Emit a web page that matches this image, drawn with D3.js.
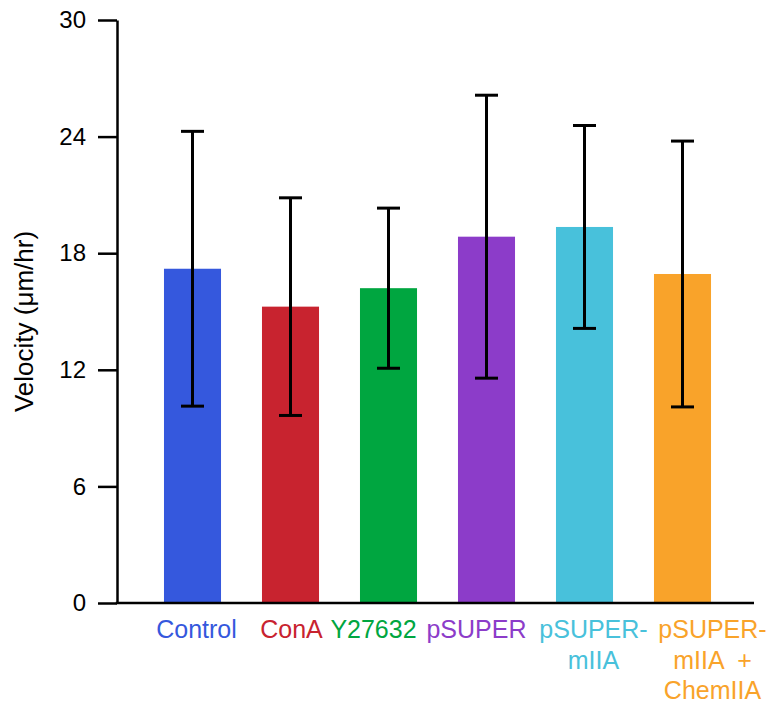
<!DOCTYPE html>
<html>
<head>
<meta charset="utf-8">
<script src="https://cdn.jsdelivr.net/npm/d3@7"></script>
<style>
  html, body { margin: 0; padding: 0; background: #fff; }
  svg { display: block; font-family: "Liberation Sans", Arial, Helvetica, sans-serif; }
</style>
</head>
<body>
<svg id="chart" width="769" height="705"></svg>
<script>
// ---- data ----
const categories = ["Control", "ConA", "Y27632", "pSUPER", "pSUPER-mIIA", "pSUPER-mIIA + ChemIIA"];
const labelLines = [["Control"], ["ConA"], ["Y27632"], ["pSUPER"], ["pSUPER-", "mIIA"], ["pSUPER-", "mIIA  +", "ChemIIA"]];
const means = [17.2, 15.25, 16.2, 18.85, 19.35, 16.93];
const errors = [7.07, 5.6, 4.12, 7.28, 5.22, 6.84];
const yTicks = [0, 6, 12, 18, 24, 30];
const yTitle = "Velocity (\u03bcm/hr)";

// ---- styles / layout ----
const colors = ["#3558dd", "#c8232f", "#00a640", "#8c3cc9", "#48c1db", "#f9a32a"];
const labelDx = [4, 1, -15, -10, 9, 30];

const svg = d3.select("#chart");
const axisX0 = 117, axisX1 = 754;

const y = d3.scaleLinear().domain([0, 30]).range([603, 20]);
const x = d3.scaleBand()
  .domain(categories)
  .range([143.5, 731.5])
  .paddingInner(0.418)
  .paddingOuter(0.209);

// bars
svg.append("g").selectAll("rect")
  .data(categories)
  .join("rect")
  .attr("x", d => x(d))
  .attr("width", x.bandwidth())
  .attr("y", (d, i) => y(means[i]))
  .attr("height", (d, i) => y(0) - y(means[i]))
  .attr("fill", (d, i) => colors[i]);

// error bars
const capW = 23;
const eb = svg.append("g").attr("stroke", "#000").attr("stroke-width", 3).attr("fill", "none");
categories.forEach((c, i) => {
  const cx = x(c) + x.bandwidth() / 2;
  const hi = y(means[i] + errors[i]);
  const lo = y(means[i] - errors[i]);
  eb.append("line").attr("x1", cx).attr("x2", cx).attr("y1", hi).attr("y2", lo);
  eb.append("line").attr("x1", cx - capW / 2).attr("x2", cx + capW / 2).attr("y1", hi).attr("y2", hi);
  eb.append("line").attr("x1", cx - capW / 2).attr("x2", cx + capW / 2).attr("y1", lo).attr("y2", lo);
});

// y axis
const yAxis = d3.axisLeft(y).tickValues(yTicks).tickSize(19).tickPadding(12).tickSizeOuter(0);
const gy = svg.append("g").attr("transform", `translate(${axisX0},0)`).call(yAxis);
gy.select(".domain").attr("stroke", "#000").attr("stroke-width", 2.5);
gy.selectAll(".tick line").attr("stroke", "#000").attr("stroke-width", 2.5);
gy.selectAll(".tick text")
  .attr("font-size", 24)
  .attr("font-family", "Liberation Sans, Arial, sans-serif")
  .attr("fill", "#000");

// x axis line
svg.append("line")
  .attr("x1", axisX0 - 1.25).attr("x2", axisX1)
  .attr("y1", y(0)).attr("y2", y(0))
  .attr("stroke", "#000").attr("stroke-width", 2.5);

// category labels
const lab = svg.append("g").attr("font-size", 25).attr("text-anchor", "middle");
categories.forEach((c, i) => {
  const cx = x(c) + x.bandwidth() / 2 + labelDx[i];
  const t = lab.append("text").attr("fill", colors[i]).attr("y", 638).style("white-space", "pre");
  labelLines[i].forEach((ln, j) => {
    t.append("tspan").attr("x", cx).attr("y", 638 + j * 30.5).text(ln);
  });
});

// y title
svg.append("text")
  .attr("transform", `translate(33,${(y(0) + y(30)) / 2 + 10}) rotate(-90)`)
  .attr("text-anchor", "middle")
  .attr("font-size", 26)
  .attr("fill", "#000")
  .text(yTitle);
</script>
</body>
</html>
